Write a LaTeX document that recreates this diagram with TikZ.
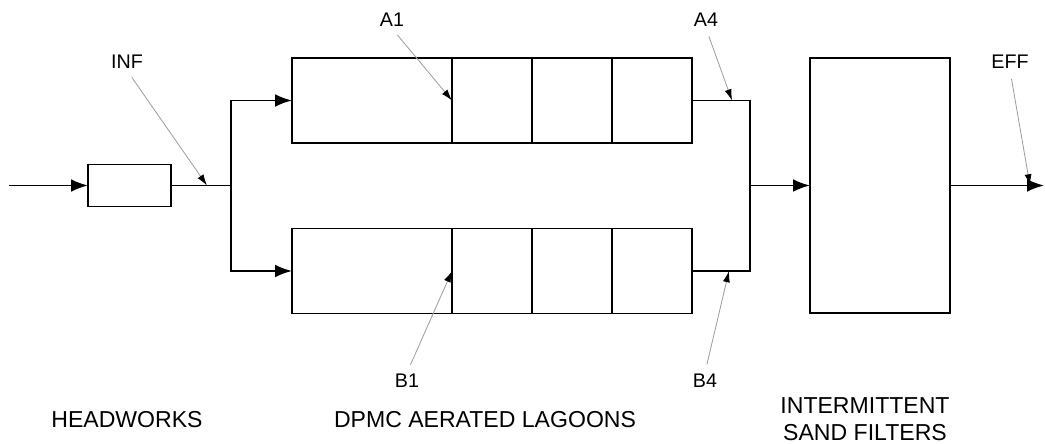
\documentclass[tikz,border=0pt]{standalone}
\usepackage{fontspec}
\setmainfont{Liberation Sans}
\usetikzlibrary{chains, arrows.meta, positioning}

\begin{document}
\begin{tikzpicture}[
  x=0.025cm, y=-0.025cm,
  node distance=0cm,
  cell/.style={
    draw, line width=1.2pt, minimum width=2cm, minimum height=2.125cm,
    outer sep=0pt, inner sep=0pt, on chain
  },
  unit/.style={draw, line width=1.2pt, outer sep=0pt, inner sep=0pt},
  pipe/.style={line width=1.2pt},
  flow/.style={pipe, -{Latex[length=12pt, width=9pt]}},
  tag/.style={draw=gray!75, line width=0.6pt, shorten <=6pt,
    -{Latex[color=black, length=8pt, width=5pt]}},
  lbl/.style={inner sep=1pt, font=\fontsize{14pt}{16pt}\selectfont},
  caption/.style={align=center, font=\fontsize{16.4pt}{19.2pt}\selectfont}
]
  \useasboundingbox (0,0) rectangle (1045,444);

  % --- UNITS ---
  % Headworks
  \node[unit, minimum width=2.075cm, minimum height=1.05cm] (hw) at (129.5,185.5) {};

  % Lagoon A: 4 cells in series
  \begin{scope}[start chain=laga going right]
    \node[cell, minimum width=4cm] at (372,100.5) {};
    \node[cell] {};
    \node[cell] {};
    \node[cell] {};
  \end{scope}

  % Lagoon B: 4 cells in series
  \begin{scope}[start chain=lagb going right]
    \node[cell, minimum width=4cm] at (372,271) {};
    \node[cell] {};
    \node[cell] {};
    \node[cell] {};
  \end{scope}

  % Intermittent sand filters
  \node[unit, minimum width=3.5cm, minimum height=6.375cm] (filter) at (880,185.5) {};

  % --- FLOW LINES ---
  \coordinate (in) at (9,185.5);
  \coordinate (split) at (231,185.5);
  \coordinate (join) at (750,185.5);
  \coordinate (out) at (1044,185.5);

  \draw[flow] (in) -- (hw);
  \draw[pipe] (hw) -- (split);
  \draw[flow] (split) |- (laga-1.west);
  \draw[flow] (split) |- (lagb-1.west);
  \draw[pipe] (laga-4.east) -| (join) |- (lagb-4.east);
  \draw[flow] (join) -- (filter);
  \draw[flow] (filter) -- (out);

  % --- SAMPLING POINTS ---
  \coordinate (infpt) at (207,185.5);
  \coordinate (a4pt) at (732,100.5);
  \coordinate (b4pt) at (729,271);
  \coordinate (effpt) at (1030,185.5);

  \node[lbl] (inf) at (127,62) {INF};
  \node[lbl] (a1) at (392,20) {A1};
  \node[lbl] (a4) at (706,20) {A4};
  \node[lbl] (eff) at (1010,62) {EFF};
  \node[lbl] (b1) at (407,381) {B1};
  \node[lbl] (b4) at (705,381) {B4};

  \draw[tag] (inf.south) -- (infpt);
  \draw[tag] (a1.south) -- (laga-1.east);
  \draw[tag] (a4.south) -- (a4pt);
  \draw[tag] (eff.south) -- (effpt);
  \draw[tag] (b1.north) -- (lagb-1.east);
  \draw[tag] (b4.north) -- (b4pt);

  % --- CAPTIONS ---
  \node[caption] (cap-hw) at (127,420) {HEADWORKS};
  \node[caption] (cap-lag) at (485,420) {DPMC AERATED LAGOONS};
  \node[caption] (cap-isf) at (865,419) {INTERMITTENT\\SAND FILTERS};

\end{tikzpicture}
\end{document}
